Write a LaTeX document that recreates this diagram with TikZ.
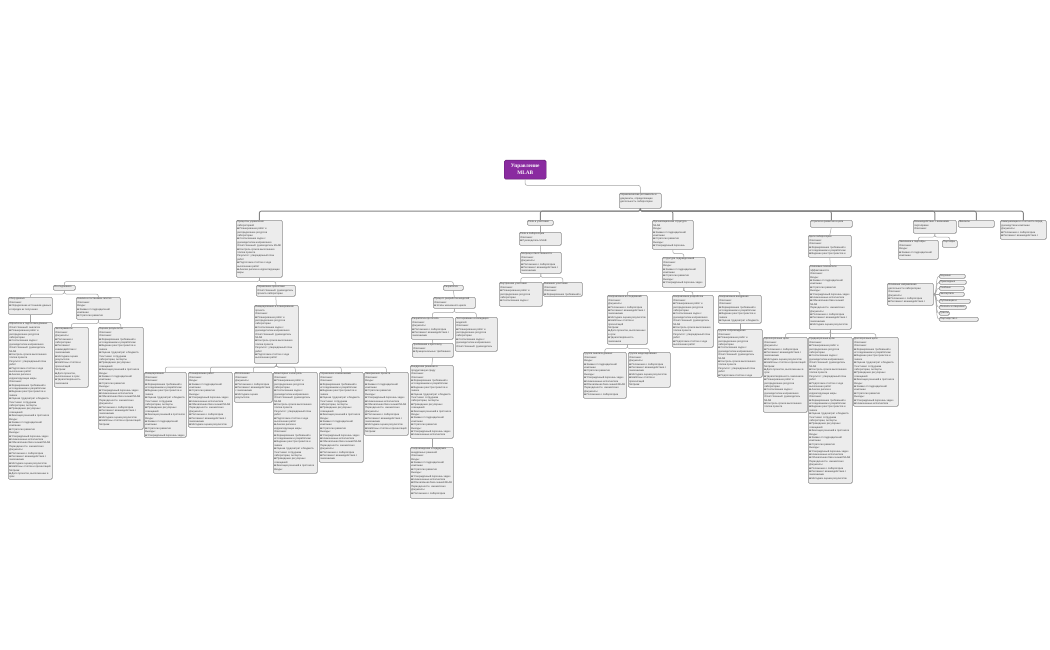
\documentclass[tikz,border=0pt]{standalone}
\usepackage{fontspec}
\setmainfont{Liberation Sans}
\newfontfamily\rootfont{Liberation Serif}
\usetikzlibrary{calc}
\definecolor{boxfill}{HTML}{ECECEC}
\definecolor{boxline}{HTML}{8E8E8E}
\definecolor{connc}{HTML}{A4A4A4}
\definecolor{topc}{HTML}{858585}
\definecolor{txtc}{HTML}{3C3C3C}
\definecolor{rootc}{HTML}{8A2BA0}
\newbox\mlfull \newbox\mltop
\newcommand\mlcut[3]{%
  \setbox\mlfull=\vbox{\hsize=#1\relax\fontsize{2.55}{3.4}\selectfont
    \raggedright\parindent=0pt\parskip=0pt\clubpenalty=0\widowpenalty=0\interlinepenalty=0
    \hbadness=10000\hfuzz=\maxdimen #3\par}%
  \vbadness=10000\vfuzz=\maxdimen\splittopskip=2.4pt\splitmaxdepth=0.8pt
  \setbox\mltop=\vsplit\mlfull to #2\relax
  \box\mltop}
\newcommand\TA{■ Планирование работ и распределение ресурсов лаборатории\par ■ Согласование задач с руководителем направления\par Ответственный: руководитель MLAB\par ■ Контроль сроков выполнения этапов проекта\par Результат: утверждённый план работ\par ■ Подготовка отчётов о ходе выполнения работ\par ■ Анализ рисков и корректирующие меры\par}
\newcommand\TB{Описание:\par ■ Формирование требований к исследованиям и разработкам\par ■ Ведение реестра проектов и заявок\par ■ Оценка трудозатрат и бюджета\par Участники: сотрудники лаборатории, эксперты\par ■ Проведение регулярных совещаний\par ■ Фиксация решений в протоколе\par}
\newcommand\TC{Входы:\par ■ Заявки от подразделений компании\par ■ Стратегия развития\par Выходы:\par ■ Утверждённый перечень задач\par ■ Назначенные исполнители\par ■ Обновлённая база знаний MLAB\par Периодичность: ежемесячно\par}
\newcommand\TD{Документы:\par ■ Положение о лаборатории\par ■ Регламент взаимодействия с заказчиками\par ■ Методика оценки результатов\par ■ Шаблоны отчётов и презентаций\par Метрики:\par ■ Доля проектов, выполненных в срок\par ■ Удовлетворённость заказчиков\par}
\newcommand\FA{\TA\TB\TC\TD\TA\TB\TC\TD}
\newcommand\FB{\TB\TC\TD\TA\TB\TC\TD\TA}
\newcommand\FC{\TC\TD\TA\TB\TC\TD\TA\TB}
\newcommand\FD{\TD\TA\TB\TC\TD\TA\TB\TC}
\tikzset{
  mbox/.style={draw=boxline, fill=boxfill, rounded corners=1.2pt, line width=0.6pt, inner sep=0pt, anchor=north west},
  btxt/.style={inner sep=0pt, anchor=north west, text=txtc},
  conn/.style={draw=connc, line width=0.5pt, rounded corners=2pt},
  topconn/.style={draw=topc, line width=0.9pt, rounded corners=2pt},
  rootbox/.style={fill=rootc, draw=rootc!70!black, line width=0.4pt, rounded corners=1.5pt, anchor=north west, inner sep=0pt, align=center, text=white, font=\rootfont\bfseries\fontsize{5.3}{7}\selectfont}
}
\newcommand\bx[6]{%
  \pgfmathsetmacro\bw{#4-#2}\pgfmathsetmacro\bh{#5-#3}%
  \node[mbox, minimum width=\bw pt, minimum height=\bh pt] (#1) at (#2,#3) {};
  \pgfmathsetmacro\tw{\bw-2.2}\pgfmathsetmacro\th{\bh-2}%
  \node[btxt] (#1-t) at ([shift={(1.1,0.9)}]#1.north west) {\mlcut{\tw pt}{\th pt}{#6}};
}
\newcommand\lk[4][conn]{\draw[#1] (#2.south) -- ++(0,#4) -| (#3.north);}
\newcommand\ls[2]{\draw[conn] (#1.south) -- (#2.north);}
\newcommand\fk[2]{\draw[conn] (#1.east) .. controls +(4,0) and +(-4,0) .. (#2.west);}
\begin{document}
\begin{tikzpicture}[x=1pt,y=-1pt]
\useasboundingbox[fill=white] (0,0) rectangle (1050,650);
% root
\node[rootbox, minimum width=42pt, minimum height=19pt] (R) at (504,160) {Управление\\MLAB};
\bx{L1}{619}{193}{661}{208}{Управленческие регламенты и документы, определяющие деятельность лаборатории}
% level 2
\bx{A}{236}{220}{282}{277}{Процессы управления лабораторией\par\FA}
\bx{B}{527}{220}{553}{225}{Роли и участники}
\bx{C}{652}{220}{693}{249}{Организационная структура MLAB\par\FC}
\bx{D}{810}{220}{852}{227}{Стратегия развития и цели лаборатории на период}
\bx{E}{913}{220}{956}{233}{Взаимодействие с внешними партнёрами\par Описание:\par ■ Регламент взаимодействия\par ■ Договоры и соглашения}
\bx{F}{958}{220}{994}{227}{Финансы\par Бюджет лаборатории на год}
\bx{G}{1000}{220}{1046}{239}{Коммуникации и отчётность перед руководством компании\par\FD}
% branch A
\bx{A1}{53}{285}{75}{290}{Исследования}
\bx{A2}{256}{285}{295}{296}{Управление проектами\par Ответственный: руководитель\par проекта лаборатории}
\bx{A3}{443}{285}{463}{290}{Разработка}
\bx{A11}{8}{297}{52}{314}{Сбор данных\par Описание:\par ■ Определение источников данных и порядка их получения\par\FB}
\bx{A12}{76}{297}{120}{319}{Анализ и постановка гипотез\par Описание:\par\FC}
\bx{A111}{8}{322}{52}{479}{Обработка и подготовка данных\par Ответственный: аналитик\par\FA}
\bx{A121}{54}{327}{88}{387}{Эксперименты\par Описание:\par\FD}
\bx{A122}{98}{327}{143}{429}{Оценка результатов\par Описание:\par\FB}
\bx{A21}{254}{305}{298}{363}{Инициирование и планирование проекта\par Описание:\par\FA}
\bx{A211}{144}{372}{186}{437}{Инициирование\par Описание:\par\FB}
\bx{A212}{188}{372}{232}{427}{Планирование работ\par Описание:\par\FC}
\bx{A213}{234}{372}{272}{402}{Исполнение\par Описание:\par\FD}
\bx{A214}{273}{372}{317}{473}{Мониторинг и контроль\par Описание:\par\FA}
\bx{A215}{319}{372}{363}{462}{Управление изменениями\par Описание:\par\FB}
\bx{A216}{364}{372}{408}{435}{Завершение проекта\par Описание:\par\FC}
\bx{A31}{433}{297}{475}{308}{Процесс разработки моделей\par Описание:\par ■ Этапы жизненного цикла}
\bx{A311}{411}{317}{453}{339}{Разработка прототипа\par Описание:\par\FD}
\bx{A312}{455}{317}{497}{351}{Тестирование и валидация моделей\par Описание:\par\FA}
\bx{A3111}{412}{343}{453}{357}{Требования к прототипу\par Описание:\par ■ Функциональные требования}
\bx{A31111}{410}{365}{453}{438}{Внедрение решения в продуктивную среду\par Описание:\par\FB}
\bx{A311111}{410}{447}{453}{498}{Сопровождение и поддержка внедрённых решений\par Описание:\par\FC}
% branch B
\bx{B1}{519}{232}{561}{245}{Роли в лаборатории\par Описание:\par ■ Руководитель MLAB\par ■ Исследователь}
\bx{B11}{520}{252}{561}{273}{Матрица ответственности\par Описание:\par\FD}
\bx{B111}{499}{282}{542}{306}{Внутренние участники\par Описание:\par\FA}
\bx{B112}{543}{282}{582}{296}{Внешние участники\par Описание:\par\FB}
% branch C
\bx{C1}{662}{257}{705}{287}{Структура подразделений\par Описание:\par\FC}
\bx{C11}{607}{295}{647}{344}{Направление исследований\par Описание:\par\FD}
\bx{C12}{672}{295}{713}{347}{Направление разработки\par Описание:\par\FA}
\bx{C13}{718}{295}{761}{323}{Направление внедрения\par Описание:\par\FB}
\bx{C111}{583}{352}{626}{398}{Группа анализа данных\par Описание:\par\FC}
\bx{C112}{628}{352}{670}{387}{Группа моделирования\par Описание:\par\FD}
\bx{C131}{717}{329}{762}{377}{Группа сопровождения\par Описание:\par\FA}
% branch D
\bx{D1}{808}{235}{851}{257}{Цели лаборатории\par Описание:\par\FB}
\bx{D11}{809}{265}{851}{329}{Ключевые показатели эффективности\par Описание:\par\FC}
\bx{D111}{763}{337}{807}{412}{Краткосрочные цели\par Описание:\par\FD}
\bx{D112}{808}{337}{852}{483}{Среднесрочные цели\par Описание:\par\FA}
\bx{D113}{853}{337}{898}{406}{Долгосрочные цели\par Описание:\par\FB}
% branch E
\bx{E1}{898}{240}{938}{259}{Заказчики и партнёры\par Описание:\par\FC}
\bx{E2}{942}{240}{957}{247}{Партнёры\par ВУЗы}
% floating topic
\bx{H}{887}{283}{933}{305}{Основные направления деятельности лаборатории\par Описание:\par\FD}
\bx{H1}{939}{274}{965}{278}{Научные исследования}
\bx{H2}{939}{280}{966}{284}{Прикладные разработки}
\bx{H3}{939}{286}{964}{290}{Учебные программы}
\bx{H4}{939}{292}{964}{296}{Экспертиза проектов}
\bx{H5}{939}{299}{970}{303}{Публикации и конференции}
\bx{H6}{939}{305}{966}{309}{Патенты и лицензии}
\bx{H7}{939}{311}{949}{315}{Гранты}
\bx{H8}{939}{317}{978}{321}{Партнёрство с промышленностью}
% connectors
\lk{R}{L1}{6}
\foreach \c in {A,B,C,D,E,F,G}{\lk[topconn]{L1}{\c}{2.5}}
\foreach \c in {A1,A2,A3}{\lk{A}{\c}{4}}
\foreach \c in {A11,A12}{\lk{A1}{\c}{3.5}}
\ls{A11}{A111}
\foreach \c in {A121,A122}{\lk{A12}{\c}{4}}
\ls{A2}{A21}
\foreach \c in {A211,A212,A213,A214,A215,A216}{\lk{A21}{\c}{3.5}}
\ls{A3}{A31}
\foreach \c in {A311,A312}{\lk{A31}{\c}{4}}
\ls{A311}{A3111}
\ls{A3111}{A31111}
\ls{A31111}{A311111}
\ls{B}{B1}
\ls{B1}{B11}
\foreach \c in {B111,B112}{\lk{B11}{\c}{4}}
\lk{C}{C1}{4}
\foreach \c in {C11,C12,C13}{\lk{C1}{\c}{4}}
\foreach \c in {C111,C112}{\lk{C11}{\c}{4}}
\ls{C13}{C131}
\ls{D}{D1}
\ls{D1}{D11}
\foreach \c in {D111,D112,D113}{\lk{D11}{\c}{4}}
\foreach \c in {E1,E2}{\lk{E}{\c}{3.5}}
\foreach \c in {H1,H2,H3,H4,H5,H6,H7,H8}{\fk{H}{\c}}
\end{tikzpicture}
\end{document}
